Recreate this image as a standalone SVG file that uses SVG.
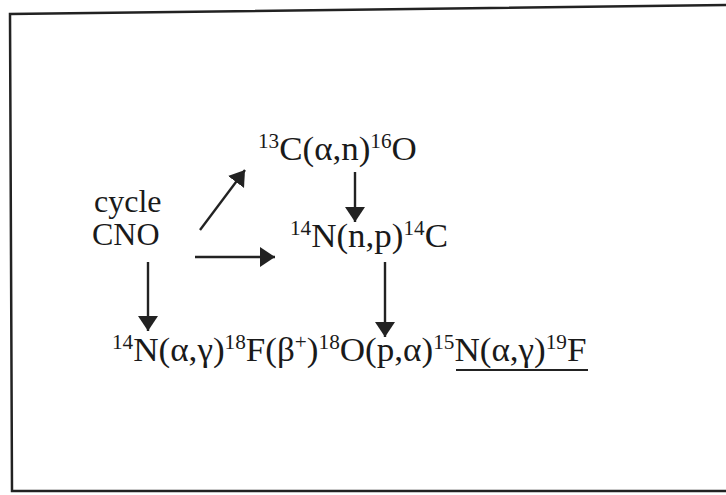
<svg xmlns="http://www.w3.org/2000/svg" width="726" height="495" viewBox="0 0 726 495">
<style>
text{font-family:"Liberation Serif","Times New Roman",serif;font-size:33px;fill:#1a1a1a}
.lbl{font-size:32px}
.sup{font-size:20px}
.conn{stroke:#222;stroke-width:2.4;fill:none}
</style>
<defs>
<marker id="ah" markerUnits="userSpaceOnUse" markerWidth="18" markerHeight="22" refX="15" refY="10" orient="auto">
<path d="M0,0 L15,10 L0,20 z" fill="#222"/>
</marker>
</defs>
<rect width="726" height="495" fill="#fff"/>
<path d="M726,5 L10,14 L12,491 L726,491" fill="none" stroke="#222" stroke-width="2.5"/>
<g id="cno">
<text class="lbl" x="94" y="212">cycle</text>
<text class="lbl" x="92" y="245">CNO</text>
</g>
<g id="c13">
<text transform="translate(258,160) scale(1.06,1)"><tspan class="sup" dy="-12">13</tspan><tspan dy="12">C(α,n)</tspan><tspan class="sup" dy="-12">16</tspan><tspan dy="12">O</tspan></text>
</g>
<g id="n14np">
<text transform="translate(290,247) scale(1.06,1)"><tspan class="sup" dy="-12">14</tspan><tspan dy="12">N(n,p)</tspan><tspan class="sup" dy="-12">14</tspan><tspan dy="12">C</tspan></text>
</g>
<g id="chain">
<text transform="translate(112,361) scale(1.063,1)"><tspan class="sup" dy="-12">14</tspan><tspan dy="12">N(α,γ)</tspan><tspan class="sup" dy="-12">18</tspan><tspan dy="12">F(β</tspan><tspan class="sup" dy="-12">+</tspan><tspan dy="12">)</tspan><tspan class="sup" dy="-12">18</tspan><tspan dy="12">O(p,α)</tspan><tspan class="sup" dy="-12">15</tspan><tspan dy="12">N(α,γ)</tspan><tspan class="sup" dy="-12">19</tspan><tspan dy="12">F</tspan></text>
<line x1="456" y1="370" x2="588" y2="370" stroke="#222" stroke-width="1.8"/>
</g>
<g id="connectors" class="conn">
<line x1="200" y1="230" x2="245" y2="170" marker-end="url(#ah)"/>
<line x1="195" y1="257" x2="275" y2="257" marker-end="url(#ah)"/>
<line x1="148" y1="262" x2="148" y2="331" marker-end="url(#ah)"/>
<line x1="355" y1="172" x2="355" y2="222" marker-end="url(#ah)"/>
<line x1="385" y1="262" x2="385" y2="337" marker-end="url(#ah)"/>
</g>
</svg>
